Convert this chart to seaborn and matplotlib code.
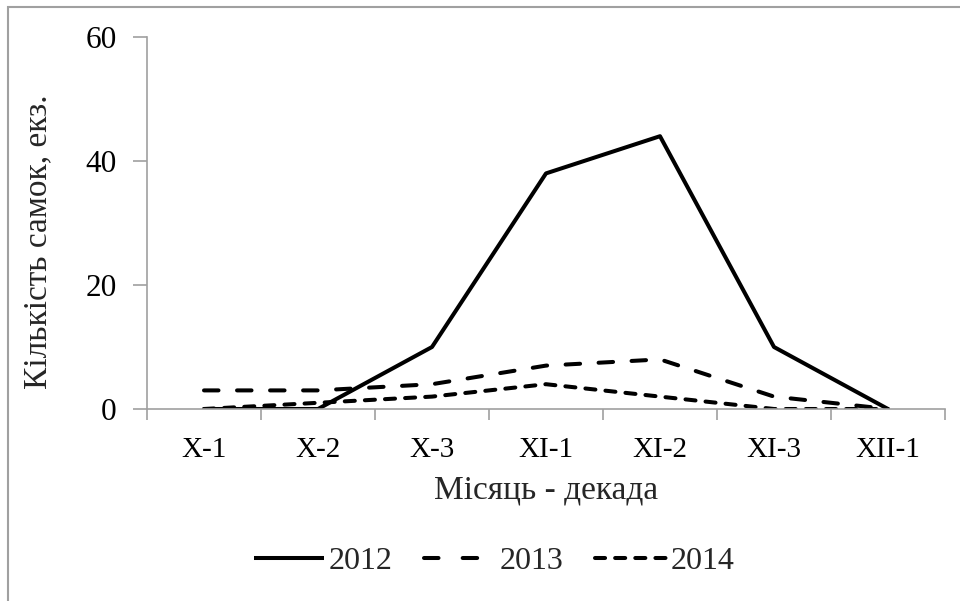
import matplotlib
matplotlib.use("Agg")
import matplotlib.pyplot as plt
from matplotlib.patches import Rectangle
import pandas as pd
import seaborn as sns

# data
decades = ["X-1", "X-2", "X-3", "XI-1", "XI-2", "XI-3", "XII-1"]
y2012 = [0, 0, 10, 38, 44, 10, 0]
y2013 = [3, 3, 4, 7, 8, 2, 0]
y2014 = [0, 1, 2, 4, 2, 0, 0]
years = ["2012", "2013", "2014"]

df = pd.DataFrame({
    "pos": list(range(len(decades))) * 3,
    "value": y2012 + y2013 + y2014,
    "year": [y for y in years for _ in decades],
})

sns.set_theme(style="white")
plt.rcParams["font.family"] = ["Liberation Serif", "DejaVu Serif"]

fig = plt.figure(figsize=(9.6, 6.01), dpi=100)
ax = fig.add_axes([147 / 960, 1 - 409 / 601, (945 - 147) / 960, (409 - 37) / 601])

lw = 2.9
dash13 = (3.6, 4.6)
dash14 = (2.5, 2.5)
sns.lineplot(data=df, x="pos", y="value", hue="year", style="year",
             palette=["black"] * 3,
             dashes={"2012": "", "2013": dash13, "2014": dash14},
             linewidth=lw, ax=ax, legend=False, sort=False)
for ln in ax.lines:
    ln.set_dash_capstyle("round")
    ln.set_solid_capstyle("round")

grey = "#a0a0a0"
ax.set_xlim(-0.5, len(decades) - 0.5)
ax.set_ylim(0, 60)
ax.set_yticks([0, 20, 40, 60])
ax.set_xticks(range(len(decades)))
ax.set_xticklabels(decades)
ax.set_xticks([i - 0.5 for i in range(len(decades) + 1)], minor=True)
ax.tick_params(axis="x", which="major", length=0, pad=20, labelsize=21, colors="black")
ax.tick_params(axis="x", which="minor", length=8, width=1.2, color=grey, direction="out", bottom=True)
ax.tick_params(axis="y", length=10, width=1.2, color=grey, direction="out", left=True,
               pad=12, labelsize=22.5, labelcolor="black")

for s in ["top", "right"]:
    ax.spines[s].set_visible(False)
for s in ["left", "bottom"]:
    ax.spines[s].set_color(grey)
    ax.spines[s].set_linewidth(1.2)

ax.set_xlabel("Місяць - декада", fontsize=24, labelpad=9)
ax.set_ylabel("Кількість самок, екз.", fontsize=24)
ax.yaxis.set_label_coords(-0.118, 0.45)

# legend handles: 2013 gets a wider gap so only two dashes fit
handles = [plt.Line2D([], [], color="black", lw=lw, dash_capstyle="round", solid_capstyle="butt",
                      linestyle=ls) for ls in ["-", (0, (3.6, 6.0)), (0, dash14)]]
fig.legend(handles, years, loc="center", bbox_to_anchor=(0.5145, 1 - 561 / 601), ncol=3,
           frameon=False, fontsize=23, handlelength=2.2, handletextpad=0.15, columnspacing=1.0)

fig.patches.append(Rectangle((8 / 960, -0.1), 1.2, 1.1 - 7 / 601, transform=fig.transFigure,
                             fill=False, edgecolor=grey, linewidth=1.5))

fig.savefig("out.png", dpi=100)
